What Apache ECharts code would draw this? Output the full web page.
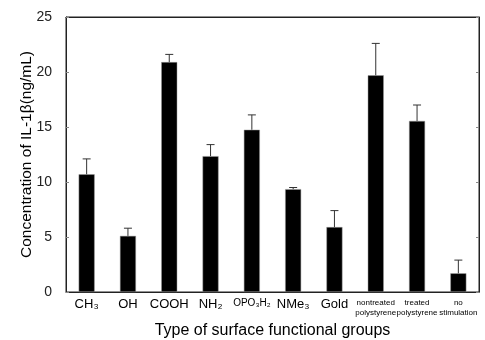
<!DOCTYPE html>
<html><head><meta charset="utf-8">
<script src="https://cdn.jsdelivr.net/npm/echarts@6/dist/echarts.min.js"></script>
<style>html,body{margin:0;padding:0;background:#fff}#c{width:485px;height:340px}</style>
</head><body><div id="c"></div>
<script>
const categories = ['CH₃', 'OH', 'COOH', 'NH₂', 'OPO₃H₂', 'NMe₃', 'Gold', 'nontreated\npolystyrene', 'treated\npolystyrene', 'no\nstimulation'];
const means = [10.7, 5.1, 20.9, 12.35, 14.75, 9.35, 5.9, 19.7, 15.55, 1.7];
const errUp = [1.4, 0.7, 0.7, 1.05, 1.35, 0.15, 1.5, 2.9, 1.45, 1.2];
const yTicks = [0, 5, 10, 15, 20, 25];

const chart = echarts.init(document.getElementById('c'));
const font = 'Liberation Sans, Arial, sans-serif';
const tick = {inside: true, length: 3, lineStyle: {color: '#888'}};
chart.setOption({
  animation: false,
  grid: {left: 66, right: 6, top: 17, bottom: 48, show: true, borderColor: '#222', borderWidth: 1,
         containLabel: false, outerBoundsMode: 'none'},
  xAxis: [{
    type: 'category', data: categories,
    axisLine: {onZero: false, lineStyle: {color: '#222', width: 1}},
    axisTick: tick,
    axisLabel: {
      interval: 0, margin: 6, color: '#000', fontFamily: font, fontSize: 13,
      formatter: function (v) {
        if (v.indexOf('\n') >= 0) return v.split('\n').map(s => '{s|' + s + '}').join('\n');
        if (v === 'OPO₃H₂') return '{m|' + v + '}';
        return v;
      },
      rich: {s: {fontSize: 8, fontFamily: font, lineHeight: 10, color: '#000'},
             m: {fontSize: 10, fontFamily: font, color: '#000'}}
    },
    name: 'Type of surface functional groups', nameLocation: 'middle', nameGap: 31, nameMoveOverlap: false,
    nameTextStyle: {fontFamily: font, fontSize: 16, color: '#000'}
  }, {
    type: 'category', data: categories, position: 'top',
    axisLine: {onZero: false, lineStyle: {color: '#222'}},
    axisTick: tick, axisLabel: {show: false}
  }],
  yAxis: [{
    type: 'value', min: 0, max: 25, interval: 5,
    axisLine: {show: true, onZero: false, lineStyle: {color: '#222'}},
    axisTick: Object.assign({show: true}, tick),
    splitLine: {show: false},
    axisLabel: {color: '#222', fontFamily: font, fontSize: 14, margin: 14,
      formatter: v => yTicks.includes(v) ? String(v) : ''},
    name: 'Concentration of IL-1β(ng/mL)', nameLocation: 'middle', nameGap: 31, nameMoveOverlap: false,
    nameTextStyle: {fontFamily: font, fontSize: 15.5, color: '#000'}
  }, {
    type: 'value', min: 0, max: 25, interval: 5, position: 'right',
    axisLine: {show: true, onZero: false, lineStyle: {color: '#222'}},
    axisTick: Object.assign({show: true}, tick),
    splitLine: {show: false}, axisLabel: {show: false}
  }],
  series: [{
    type: 'bar', data: means, barWidth: 16,
    itemStyle: {color: '#000', borderColor: '#999', borderWidth: 0.5}
  }, {
    type: 'custom',
    data: means.map((m, i) => [i, m, m + errUp[i]]),
    renderItem: function (params, api) {
      const p0 = api.coord([api.value(0), api.value(1)]);
      const p1 = api.coord([api.value(0), api.value(2)]);
      const style = {stroke: '#333', lineWidth: 1};
      return {type: 'group', children: [
        {type: 'line', shape: {x1: p0[0], y1: p0[1], x2: p1[0], y2: p1[1]}, style: style},
        {type: 'line', shape: {x1: p1[0] - 4, y1: p1[1], x2: p1[0] + 4, y2: p1[1]}, style: style}
      ]};
    },
    z: 5
  }]
});
</script></body></html>
